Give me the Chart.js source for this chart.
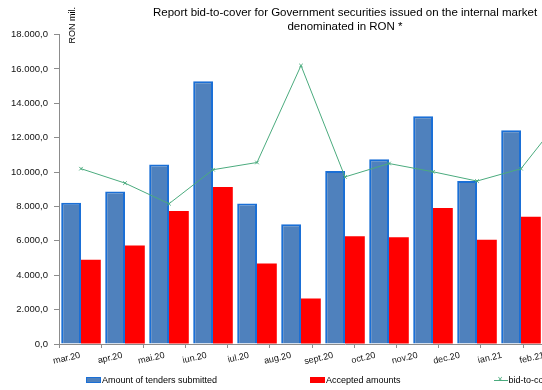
<!DOCTYPE html>
<html>
<head>
<meta charset="utf-8">
<script src="https://cdn.jsdelivr.net/npm/chart.js@4.4.1/dist/chart.umd.min.js"></script>
<style>
  html, body { margin: 0; padding: 0; background: #fff; overflow: hidden; }
  body { width: 542px; height: 390px; }
  #wrap { position: relative; width: 690px; height: 390px; }
  #legend {
    position: absolute; left: 86px; top: 375px;
    display: flex; gap: 93px;
    font: 9px "Liberation Sans", Arial, sans-serif; color: #000; white-space: nowrap;
  }
  #legend .item { display: flex; align-items: center; }
  #legend .swatch { display: inline-block; width: 15px; height: 6px; margin-right: 1px; box-sizing: border-box; }
  #legend .line { position: relative; width: 14px; height: 9px; margin-right: 1px; }
  #legend .line::before { content: ""; position: absolute; left: 0; right: 0; top: 4px; border-top: 1px solid #4bab7e; }
  #legend .line::after { content: "\00d7"; position: absolute; left: 4px; top: -2px; font-size: 9px; color: #4bab7e; }
</style>
</head>
<body>
<div id="wrap">
  <canvas id="chart" width="690" height="390"></canvas>
  <div id="legend"></div>
</div>
<script>
const months = ["mar.20", "apr.20", "mai.20", "iun.20", "iul.20", "aug.20", "sept.20",
  "oct.20", "nov.20", "dec.20", "ian.21", "feb.21", "mar.21"];
// RON mil.
const tenders = [8220, 8870, 10450, 15280, 8180, 6960, 10070, 10750, 13250, 9490, 12430, 11800, 10200];
const accepted = [4900, 5730, 7740, 9140, 4690, 2640, 6270, 6210, 7910, 6060, 7410, 7000, 6100];
// ratio, right axis
const bidToCover = [1.70, 1.56, 1.36, 1.69, 1.76, 2.70, 1.62, 1.75, 1.67, 1.58, 1.70, 2.24, 1.90];

const titleLines = [
  "Report bid-to-cover for Government securities issued on the internal market",
  "denominated in RON *"
];
const unitLabel = "RON mil.";
const seriesNames = ["Amount of tenders submitted", "Accepted amounts", "bid-to-cover ratio"];

const FONT = '"Liberation Sans", Arial, sans-serif';
const BLUE = "#4f81bd";
const BLUE_EDGE = "#1a6fd6";
const RED = "#ff0000";
const GREEN = "#4bab7e";
const AXIS = "#8c8c8c";

// 18000 -> "18.000,0"
function fmt(v) {
  const parts = v.toFixed(1).split(".");
  return parts[0].replace(/\B(?=(\d{3})+(?!\d))/g, ".") + "," + parts[1];
}

// vertical unit caption at the top of the left axis
const unitNote = {
  id: "unitNote",
  afterDraw(chart) {
    const { ctx, chartArea } = chart;
    ctx.save();
    ctx.translate(chartArea.left + 14, chartArea.top + 9);
    ctx.rotate(-Math.PI / 2);
    ctx.font = "9px " + FONT;
    ctx.fillStyle = "#000";
    ctx.textBaseline = "middle";
    ctx.fillText(unitLabel, 0, 0);
    ctx.restore();
  }
};

const chart = new Chart(document.getElementById("chart"), {
  type: "bar",
  data: {
    labels: months,
    datasets: [
      {
        label: seriesNames[0],
        data: tenders,
        backgroundColor: BLUE,
        borderColor: BLUE_EDGE,
        borderWidth: 2,
        xAxisID: "x",
        yAxisID: "y",
        categoryPercentage: 0.9,
        barPercentage: 1.0
      },
      {
        label: seriesNames[1],
        data: accepted,
        backgroundColor: RED,
        borderWidth: 0,
        xAxisID: "x",
        yAxisID: "y",
        categoryPercentage: 0.9,
        barPercentage: 1.0
      },
      {
        type: "line",
        label: seriesNames[2],
        data: bidToCover,
        borderColor: GREEN,
        backgroundColor: GREEN,
        borderWidth: 1,
        pointStyle: "crossRot",
        pointRadius: 2.5,
        pointBorderWidth: 1,
        tension: 0,
        xAxisID: "x",
        yAxisID: "y2",
        order: -1
      }
    ]
  },
  options: {
    responsive: false,
    animation: false,
    layout: { padding: 0 },
    plugins: {
      legend: { display: false },
      tooltip: { enabled: false },
      title: {
        display: true,
        text: titleLines,
        color: "#000",
        font: { family: FONT, size: 11.5, weight: "normal", lineHeight: 1.2 },
        padding: { top: 6, bottom: 1 }
      }
    },
    scales: {
      x: {
        display: false,
        offset: true
      },
      // month labels, spaced on their own ruler
      xl: {
        type: "linear",
        position: "bottom",
        bounds: "data",
        offset: false,
        min: 0,
        max: 13.56,
        afterFit(scale) { scale.height = 46; },
        border: { color: AXIS, width: 1 },
        grid: {
          offset: false,
          drawOnChartArea: false,
          tickLength: 4,
          tickColor: (c) => (c.tick && c.tick.value % 1 === 0 ? AXIS : "rgba(0,0,0,0)")
        },
        ticks: {
          stepSize: 0.5,
          autoSkip: false,
          includeBounds: false,
          minRotation: 13,
          maxRotation: 13,
          padding: 2,
          color: "#111",
          font: { family: FONT, size: 9 },
          callback: (v) => (v % 1 === 0.5 ? months[Math.floor(v)] : "")
        }
      },
      y: {
        position: "left",
        min: 0,
        max: 18000,
        afterFit(scale) { scale.width = 59; },
        border: { color: AXIS, width: 1 },
        grid: { drawOnChartArea: false, tickLength: 5, tickColor: AXIS },
        ticks: {
          stepSize: 2000,
          padding: 6,
          color: "#111",
          font: { family: FONT, size: 9.5 },
          callback: (v) => fmt(v)
        }
      },
      y2: {
        position: "right",
        min: 0,
        max: 3,
        afterFit(scale) { scale.width = 59; },
        border: { color: AXIS, width: 1 },
        grid: { drawOnChartArea: false, tickLength: 5, tickColor: AXIS },
        ticks: {
          stepSize: 0.5,
          padding: 6,
          color: "#111",
          font: { family: FONT, size: 9.5 },
          callback: (v) => v.toFixed(2).replace(".", ",")
        }
      }
    }
  },
  plugins: [unitNote]
});

// html legend built from the datasets
const legendBox = document.getElementById("legend");
chart.data.datasets.forEach((ds) => {
  const item = document.createElement("div");
  item.className = "item";
  const mark = document.createElement("span");
  if (ds.type === "line") {
    mark.className = "line";
  } else {
    mark.className = "swatch";
    mark.style.background = ds.backgroundColor;
    if (ds.borderWidth) mark.style.border = "1px solid " + ds.borderColor;
  }
  item.appendChild(mark);
  item.appendChild(document.createTextNode(ds.label));
  legendBox.appendChild(item);
});
</script>
</body>
</html>
